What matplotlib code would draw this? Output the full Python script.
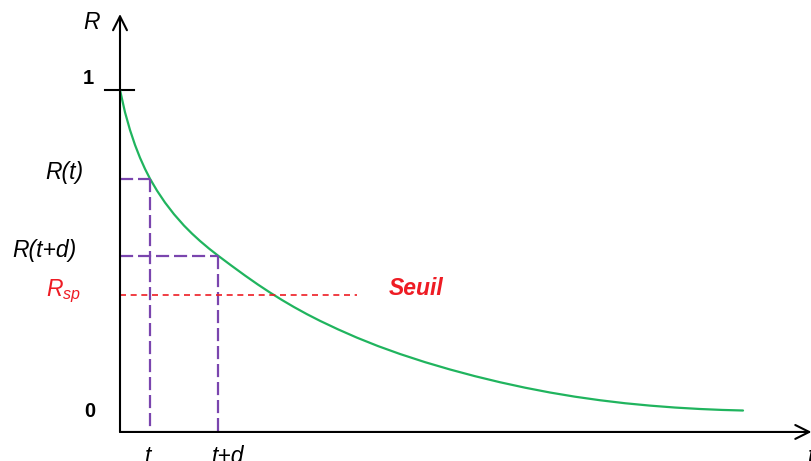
import matplotlib.pyplot as plt
import matplotlib as mpl

mpl.rcParams['font.family'] = ['Liberation Sans', 'DejaVu Sans']
mpl.rcParams['mathtext.fontset'] = 'custom'
mpl.rcParams['mathtext.it'] = 'Liberation Sans:italic'
mpl.rcParams['mathtext.rm'] = 'Liberation Sans'

# reliability curve R(t), read point by point
t_curve = [0.00, 0.05, 0.10, 0.15, 0.20, 0.25, 0.30, 0.37, 0.45, 0.54, 0.64,
           0.72, 0.80, 0.89, 0.98, 1.11, 1.25, 1.38, 1.50, 1.62, 1.74, 1.87,
           2.00, 2.18, 2.37, 2.58, 2.80, 3.05, 3.30, 3.55, 3.80, 4.05, 4.30,
           4.55, 4.80, 5.05, 5.30, 5.55, 5.80, 6.02, 6.23]
r_curve = [1.0000, 0.9309, 0.8758, 0.8294, 0.7896, 0.7550, 0.7244, 0.6875, 0.6505,
           0.6142, 0.5789, 0.5540, 0.5312, 0.5076, 0.4857, 0.4555, 0.4238, 0.3956,
           0.3710, 0.3478, 0.3259, 0.3037, 0.2831, 0.2567, 0.2308, 0.2047, 0.1801,
           0.1548, 0.1320, 0.1112, 0.0924, 0.0755, 0.0605, 0.0475, 0.0365, 0.0272,
           0.0198, 0.0138, 0.0093, 0.0064, 0.0046]

t_mark = 0.30
d_mark = 0.68
r_t = 0.7244
r_td = 0.4857
r_sp = 0.363
seuil_end = 2.37

GREEN = '#20b45e'
PURPLE = '#7a45ae'
RED = '#ee1c24'

fig = plt.figure(figsize=(8.12, 4.61), dpi=100)
ax = fig.add_axes([0, 0, 1, 1])
ax.set_xlim(-1.2, 6.92)
ax.set_ylim(-0.1522, 1.2795)
ax.axis('off')

y_axis_base = -0.062
# axes with open arrow heads
arrow = dict(arrowstyle='->, head_length=0.5, head_width=0.25', lw=1.5,
             color='black', mutation_scale=20, shrinkA=0, shrinkB=0)
ax.annotate('', xy=(0, 1.236), xytext=(0, y_axis_base), arrowprops=arrow)
ax.annotate('', xy=(6.915, y_axis_base), xytext=(0, y_axis_base), arrowprops=arrow)
ax.plot([-0.15, 0.14], [1.0, 1.0], color='black', lw=1.5)

# curve
ax.plot(t_curve, r_curve, color=GREEN, lw=1.6, solid_capstyle='round',
        solid_joinstyle='round')

# guide lines for t and t+d
dash_p = dict(color=PURPLE, lw=1.6, dashes=(5.9, 2.2))
t2 = t_mark + d_mark
ax.plot([0, t_mark], [r_t, r_t], **dash_p)
ax.plot([t_mark, t_mark], [r_t, y_axis_base], **dash_p)
ax.plot([0, t2], [r_td, r_td], **dash_p)
ax.plot([t2, t2], [r_td, y_axis_base], **dash_p)

# threshold
ax.plot([0, seuil_end], [r_sp, r_sp], color=RED, lw=1.2, dashes=(3.6, 2.8))

fs = 16.5
fn = 14.5
ax.text(-0.28, 1.211, 'R', fontsize=fs, style='italic', ha='center', va='center')
ax.text(-0.32, 1.037, '1', fontsize=fn, fontweight='bold', ha='center', va='center')
ax.text(-0.30, 0.0, '0', fontsize=fn, fontweight='bold', ha='center', va='center')
ax.text(-0.75, 0.745, 'R(t)', fontsize=fs, style='italic', ha='left', va='center')
ax.text(-1.08, 0.503, 'R(t+d)', fontsize=fs, style='italic', ha='left', va='center')
ax.text(-0.74, 0.374, r'$R_{sp}$', fontsize=fs, color=RED, ha='left', va='center')
ax.text(2.69, 0.382, 'Seuil', fontsize=fs, color=RED, style='italic',
        fontweight='bold', ha='left', va='center')
ax.text(0.28, -0.158, 't', fontsize=fs, style='italic', ha='center', va='baseline')
ax.text(1.08, -0.158, 't+d', fontsize=fs, style='italic', ha='center', va='baseline')
ax.text(6.88, -0.158, 't', fontsize=fs, style='italic', ha='left', va='baseline')

fig.savefig('out.png', dpi=100)
